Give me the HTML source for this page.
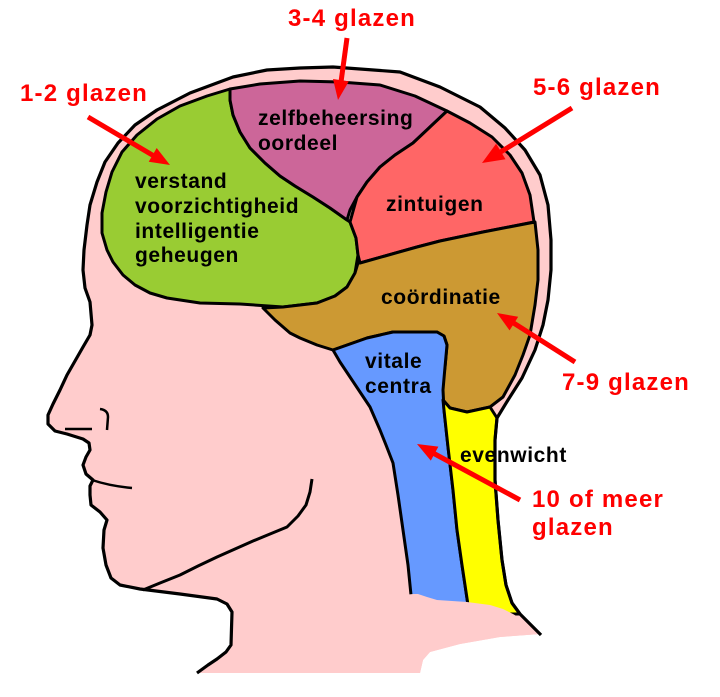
<!DOCTYPE html>
<html><head><meta charset="utf-8"><style>
html,body{margin:0;padding:0;background:#fff;}
svg{display:block;}
.lb{font-family:"Liberation Sans",Arial,sans-serif;font-weight:bold;font-size:21px;fill:#000;letter-spacing:0.6px;}
.rd{font-family:"Liberation Sans",Arial,sans-serif;font-weight:bold;font-size:24px;fill:#f00;letter-spacing:1.2px;}
</style></head><body>
<svg width="720" height="697" viewBox="0 0 720 697" xmlns="http://www.w3.org/2000/svg">
<rect width="720" height="697" fill="#fff"/>
<!-- skin silhouette -->
<path d="M197,673 L208,665 L217,659 L226,652 L231,645 L232,612 L227,604 L217,599 L180,594 L140,589 L120,585 L111,578 L106,565 L103,548 L104,530 L107,520 L100,512 L91,505 L90,495 L90,486 L93,480 L86,474 L83,465 L86,457 L90,450 L89,443 L83,439 L67,434 L55,431 L48,424 L48,415 L53,404 L60,390 L67,375 L75,361 L83,347 L90,335 L92,325 L90,302 L85,288 L83,270 L84,250 L87,225 L90,205 L97,182 L105,162 L118,143 L135,125 L157,110 L190,93 L233,77 L267,70 L300,68 L333,67 L400,72 L440,87 L480,107 L505,128 L525,150 L540,175 L548,205 L551,240 L551,270 L548,300 L543,325 L535,350 L522,378 L508,400 L497,418 L495,440 L495,480 L498,520 L502,560 L506,585 L512,603 L520,614 L532,626 L540,634 L500,637 L460,644 L430,652 L423,660 L420,673 Z" fill="#ffcccc"/>
<path d="M197,673 L208,665 L217,659 L226,652 L231,645 L232,612 L227,604 L217,599 L180,594 L140,589 L120,585 L111,578 L106,565 L103,548 L104,530 L107,520 L100,512 L91,505 L90,495 L90,486 L93,480 L86,474 L83,465 L86,457 L90,450 L89,443 L83,439 L67,434 L55,431 L48,424 L48,415 L53,404 L60,390 L67,375 L75,361 L83,347 L90,335 L92,325 L90,302 L85,288 L83,270 L84,250 L87,225 L90,205 L97,182 L105,162 L118,143 L135,125 L157,110 L190,93 L233,77 L267,70 L300,68 L333,67 L400,72 L440,87 L480,107 L505,128 L525,150 L540,175 L548,205 L551,240 L551,270 L548,300 L543,325 L535,350 L522,378 L508,400 L497,418" fill="none" stroke="#000" stroke-width="3.2" stroke-linejoin="round"/>
<!-- green -->
<path d="M230,89 L207,96 L180,106 L157,119 L137,135 L122,152 L112,172 L106,192 L102,213 L102,233 L107,250 L113,262 L123,275 L135,285 L150,293 L167,298 L200,303 L240,304 L283,307 L317,303 L335,296 L347,287 L355,273 L358,255 L356,238 L350,222 L330,208 L313,197 L295,186 L280,176 L265,163 L250,148 L240,132 L233,115 L230,100 Z" fill="#99cc33" stroke="#000" stroke-width="3" stroke-linejoin="round"/>
<!-- purple -->
<path d="M230,89 L260,84 L300,81 L340,82 L380,85 L415,96 L447,111 L430,127 L413,143 L395,155 L380,167 L367,182 L357,197 L350,210 L347,220 L330,208 L313,197 L295,186 L280,176 L265,163 L250,148 L240,132 L233,115 L230,100 Z" fill="#cc6699" stroke="#000" stroke-width="3" stroke-linejoin="round"/>
<!-- red -->
<path d="M447,111 L470,123 L492,137 L510,155 L522,173 L530,195 L534,222 L483,232 L440,241 L417,247 L385,256 L360,263 L358,255 L356,238 L350,222 L357,197 L367,182 L380,167 L395,155 L413,143 L430,127 Z" fill="#ff6666" stroke="#000" stroke-width="3" stroke-linejoin="round"/>
<!-- brown -->
<path d="M360,263 L385,256 L417,247 L440,241 L483,232 L535,222 L538,250 L538,280 L535,305 L530,335 L523,355 L515,375 L503,397 L490,407 L467,412 L450,408 L443,400 L443,380 L445,367 L447,345 L444,336 L437,332 L393,332 L367,338 L333,350 L317,345 L300,338 L290,333 L275,320 L263,308 L283,307 L317,303 L335,296 L347,287 L355,273 L358,263 Z" fill="#cc9933" stroke="#000" stroke-width="3" stroke-linejoin="round"/>
<!-- blue -->
<path d="M333,350 L367,338 L393,332 L437,332 L444,336 L447,345 L445,367 L443,390 L444,410 L448,447 L453,490 L457,530 L462,565 L468,605 L412,605 L408,565 L403,530 L398,495 L393,463 L386,445 L380,430 L370,407 L360,392 L350,377 L340,362 Z" fill="#6699ff" stroke="#000" stroke-width="3" stroke-linejoin="round"/>
<!-- yellow -->
<path d="M443,400 L450,408 L467,412 L490,407 L497,418 L495,440 L495,480 L498,520 L502,560 L506,585 L512,603 L520,614 L470,614 L468,605 L462,565 L457,530 L453,490 L448,447 L444,410 Z" fill="#ffff00" stroke="#000" stroke-width="3" stroke-linejoin="round"/>
<!-- pink bottom patch -->
<path d="M404,595 L413,594 L418,594 L427,597 L437,600 L467,602 L490,605 L503,609 L513,614 L523,620 L533,626 L540,634 L500,637 L460,644 L430,652 L423,660 L420,673 L380,673 L380,595 Z" fill="#ffcccc"/>
<!-- neck back outline redraw -->
<path d="M497,418 L495,440 L495,480 L498,520 L502,560 L506,585 L512,603 L520,614 L532,626 L541,635" fill="none" stroke="#000" stroke-width="3.2" stroke-linejoin="round"/>
<!-- face details -->
<path d="M100,409 Q108,410 108,417 L107,430" fill="none" stroke="#000" stroke-width="2.5"/>
<path d="M65,429 L92,429" fill="none" stroke="#000" stroke-width="2.5"/>
<path d="M92,480 Q110,486 132,488" fill="none" stroke="#000" stroke-width="2.5"/>
<path d="M312,479 L310,492 L306,505 L298,516 L287,527 L270,534 L253,541 L235,549 L217,557 L198,566 L180,575 L160,583 L143,590" fill="none" stroke="#000" stroke-width="3" stroke-linejoin="round"/>
<!-- black labels -->
<text class="lb" x="135" y="188">verstand</text>
<text class="lb" x="135" y="213">voorzichtigheid</text>
<text class="lb" x="135" y="238">intelligentie</text>
<text class="lb" x="135" y="262">geheugen</text>
<text class="lb" x="258" y="125">zelfbeheersing</text>
<text class="lb" x="258" y="150">oordeel</text>
<text class="lb" x="386" y="211">zintuigen</text>
<text class="lb" x="381" y="304">coördinatie</text>
<text class="lb" x="365" y="368">vitale</text>
<text class="lb" x="365" y="393">centra</text>
<text class="lb" x="460" y="462">evenwicht</text>
<!-- red labels -->
<text class="rd" x="20" y="101">1-2 glazen</text>
<text class="rd" x="288" y="26">3-4 glazen</text>
<text class="rd" x="533" y="95">5-6 glazen</text>
<text class="rd" x="562" y="390">7-9 glazen</text>
<text class="rd" x="532" y="507">10 of meer</text>
<text class="rd" x="532" y="535">glazen</text>
<!-- arrows -->
<g stroke="#f00" stroke-width="5" fill="none">
<line x1="88" y1="117" x2="154" y2="156"/>
<line x1="347" y1="38" x2="341" y2="82"/>
<line x1="572" y1="108" x2="499" y2="153"/>
<line x1="575" y1="362" x2="512" y2="322"/>
<line x1="520" y1="500" x2="433" y2="453"/>
</g>
<g fill="#f00">
<polygon points="170,165 148.7,161.8 156.7,148"/>
<polygon points="338,100 333,79 348.8,81.4"/>
<polygon points="482,163 496.1,143.8 505.5,159.2"/>
<polygon points="497,313 518.2,316.8 509.6,330.4"/>
<polygon points="417,444 438.4,446.6 430.8,460.6"/>
</g>
</svg>
</body></html>
